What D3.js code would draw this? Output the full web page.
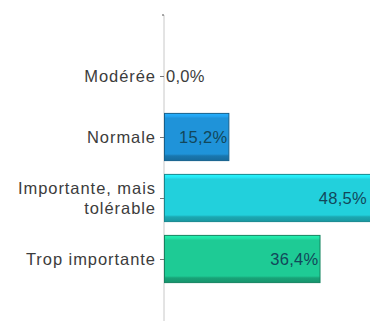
<!DOCTYPE html>
<html>
<head>
<meta charset="utf-8">
<script src="https://cdn.jsdelivr.net/npm/d3@7"></script>
<style>
  html, body { margin: 0; padding: 0; background: #fff; }
  svg { display: block; }
  text { font-family: "Liberation Sans", Arial, sans-serif; }
</style>
</head>
<body>
<svg id="chart" width="370" height="321"></svg>
<script>
// Answer categories (top to bottom), share of responses in %, bar colours
const categories = ["Modérée", "Normale", "Importante, mais tolérable", "Trop importante"];
const labelLines = [["Modérée"], ["Normale"], ["Importante, mais", "tolérable"], ["Trop importante"]];
const values = [0.0, 15.2, 48.5, 36.4];
const colors = ["#1f8fd6", "#1f93d9", "#22d0dc", "#1ecb95"];

const W = 370, H = 321;
const axisX = 164;
const svg = d3.select("#chart");

const x = d3.scaleLinear().domain([0, 50]).range([axisX, axisX + 215]);
const y = d3.scalePoint().domain(categories).range([15, 320]).padding(1);
const barH = y.step() * 0.79;

const fmt = v => d3.format(".1f")(v).replace(".", ",") + "%";

// Bevel gradients: light top edge, flat body, dark bottom edge
const defs = svg.append("defs");
colors.forEach((c, i) => {
  const g = defs.append("linearGradient")
    .attr("id", "grad" + i).attr("x1", 0).attr("y1", 0).attr("x2", 0).attr("y2", 1);
  const base = d3.color(c);
  const stops = [
    [0, base.brighter(0.5)], [0.07, base.brighter(0.25)], [0.1, base],
    [0.86, base], [0.9, base.darker(0.6)], [1, base.darker(0.9)]
  ];
  stops.forEach(([o, col]) => g.append("stop").attr("offset", o).attr("stop-color", col));
});

// Category axis
const axis = d3.axisLeft(y).tickSize(4).tickFormat("");
const gAxis = svg.append("g").attr("transform", `translate(${axisX},0)`).call(axis);
gAxis.select(".domain").attr("stroke", "#c8c8c8").attr("d", `M0,15V${H}`);
gAxis.selectAll(".tick line").attr("stroke", "#777");
gAxis.append("line").attr("x1", -2).attr("x2", 0).attr("y1", 15).attr("y2", 15).attr("stroke", "#555");

const fontSize = 16.5, spacing = 0.95;

// Category labels
const lab = svg.append("g").selectAll("text").data(categories).join("text")
  .attr("x", axisX - 8)
  .attr("text-anchor", "end")
  .attr("fill", "#3c3c3c")
  .attr("font-size", fontSize)
  .attr("letter-spacing", spacing);
lab.each(function(d, i) {
  const lines = labelLines[i];
  const lh = 20;
  const y0 = y(d) - (lines.length - 1) * lh / 2;
  d3.select(this).selectAll("tspan").data(lines).join("tspan")
    .attr("x", axisX - 8)
    .attr("y", (l, j) => y0 + j * lh)
    .attr("dy", "0.35em")
    .text(l => l);
});

// Bars
svg.append("g").selectAll("rect").data(categories).join("rect")
  .attr("x", x(0) + 0.5)
  .attr("y", d => y(d) - barH / 2 + 0.5)
  .attr("width", (d, i) => Math.max(0, x(values[i]) - x(0) - 1))
  .attr("height", barH - 1)
  .attr("fill", (d, i) => `url(#grad${i})`)
  .attr("stroke", (d, i) => d3.color(colors[i]).darker(1.2))
  .attr("stroke-width", 1)
  .attr("display", (d, i) => values[i] > 0 ? null : "none");

// Value labels (kept inside the visible area)
svg.append("g").selectAll("text").data(categories).join("text")
  .attr("x", (d, i) => values[i] > 0 ? Math.min(x(values[i]) - 2, W - 3) : x(0) + 2)
  .attr("y", d => y(d))
  .attr("dy", "0.35em")
  .attr("text-anchor", (d, i) => values[i] > 0 ? "end" : "start")
  .attr("fill", (d, i) => values[i] > 0 ? "#12475a" : "#3c3c3c")
  .attr("font-size", fontSize)
  .attr("letter-spacing", 0.3)
  .text((d, i) => fmt(values[i]));
</script>
</body>
</html>
